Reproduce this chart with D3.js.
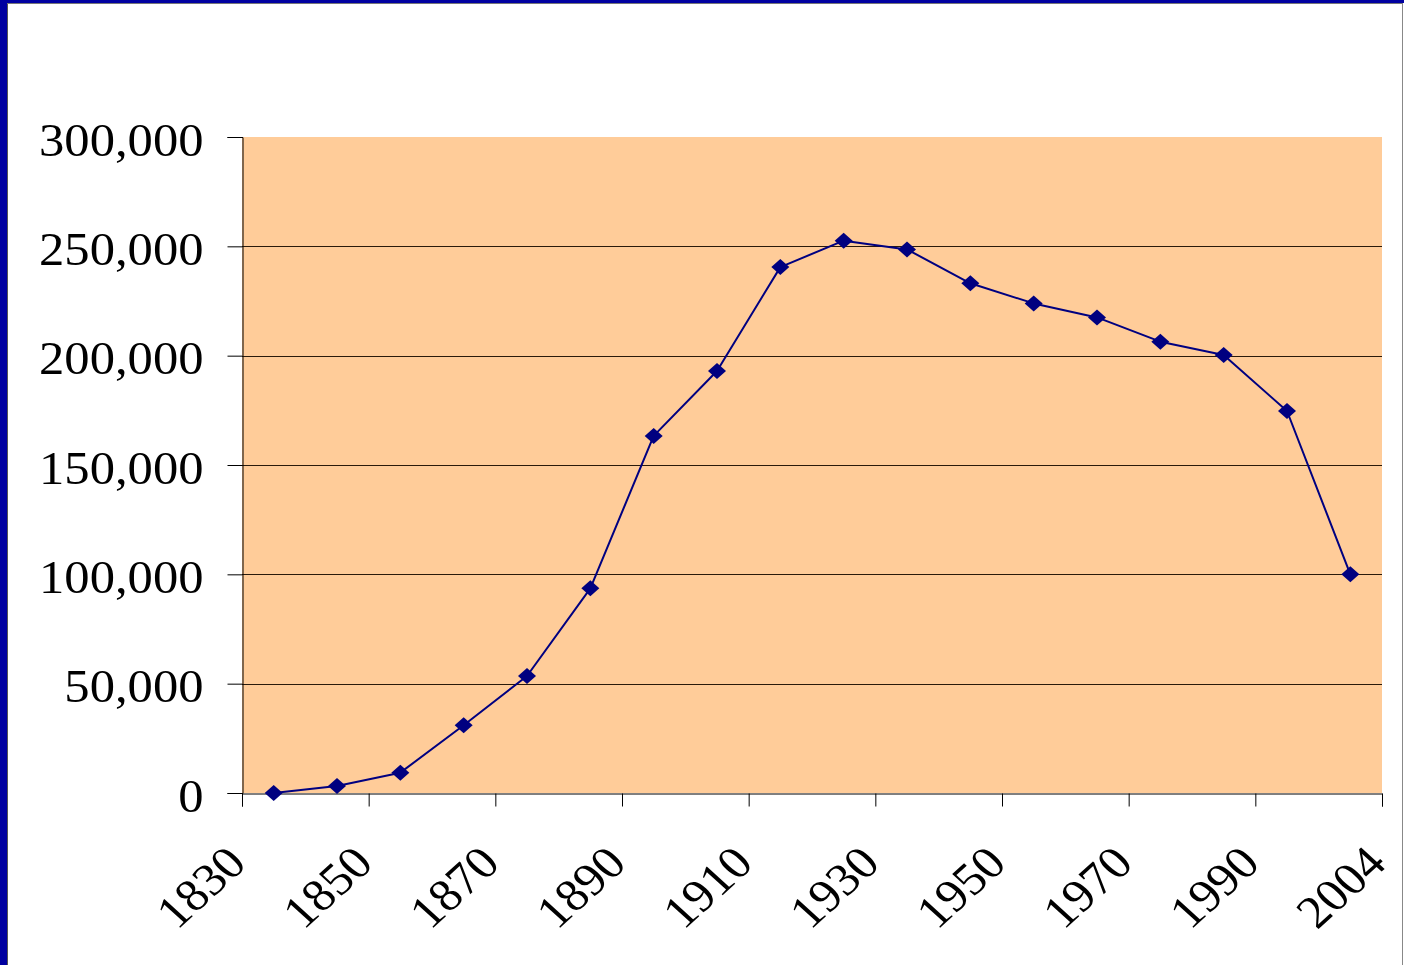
<!DOCTYPE html>
<html>
<head>
<meta charset="utf-8">
<script src="https://cdn.jsdelivr.net/npm/d3@7/dist/d3.min.js"></script>
<style>
  html, body { margin: 0; padding: 0; background: #fff; }
  svg { display: block; }
</style>
</head>
<body>
<svg id="chart" width="1404" height="965"></svg>
<script>
// Decade categories (one point each) and their values
const categories = ["1830s","1840s","1850s","1860s","1870s","1880s","1890s","1900s","1910s",
                    "1920s","1930s","1940s","1950s","1960s","1970s","1980s","1990s","2004"];
const values = [0, 3200, 9300, 31000, 53500, 93600, 163300, 193000, 240500,
                 252600, 248600, 233100, 223900, 217500, 206400, 200300, 174700, 100000];

// Labels placed on every second category boundary
const xTickLabels = ["1830","1850","1870","1890","1910","1930","1950","1970","1990","2004"];
const yTicks = [0, 50000, 100000, 150000, 200000, 250000, 300000];

const svg = d3.select("#chart");
const W = 1404, H = 965;

// Slide frame: blue band on the left and top, thin grey inner edge
svg.append("rect").attr("x", 0).attr("y", 0).attr("width", W).attr("height", H).attr("fill", "#fff");
svg.append("rect").attr("x", 0).attr("y", 0).attr("width", 7).attr("height", H).attr("fill", "#0000A0");
svg.append("rect").attr("x", 0).attr("y", 0).attr("width", W).attr("height", 3).attr("fill", "#0000A0");
svg.append("line").attr("x1", 7.5).attr("x2", 7.5).attr("y1", 3).attr("y2", H)
  .attr("stroke", "#555").attr("stroke-width", 1);
svg.append("line").attr("x1", 7).attr("x2", 1402).attr("y1", 3.5).attr("y2", 3.5)
  .attr("stroke", "#777").attr("stroke-width", 1);
svg.append("line").attr("x1", 1402.5).attr("x2", 1402.5).attr("y1", 3).attr("y2", H)
  .attr("stroke", "#888").attr("stroke-width", 1);

const plot = { left: 242, right: 1382, top: 137, bottom: 793 };

const x = d3.scaleBand().domain(categories).range([plot.left, plot.right]).padding(0);
const xEdge = d3.scaleLinear().domain([0, categories.length]).range([plot.left, plot.right]);
const y = d3.scaleLinear().domain([0, 300000]).range([plot.bottom, plot.top]);

// Plot area
svg.append("rect")
  .attr("x", plot.left).attr("y", plot.top)
  .attr("width", plot.right - plot.left).attr("height", plot.bottom - plot.top)
  .attr("fill", "#FFCC99");

// Horizontal gridlines
svg.append("g")
  .selectAll("line")
  .data(yTicks.filter(d => d > 0 && d < 300000))
  .join("line")
  .attr("x1", plot.left).attr("x2", plot.right)
  .attr("y1", d => Math.round(y(d)) + 0.5).attr("y2", d => Math.round(y(d)) + 0.5)
  .attr("stroke", "#2a1a0a").attr("stroke-width", 1);

const fmt = d3.format(",");
const labelFont = "'Liberation Serif', 'Times New Roman', serif";

// Y axis
const yAxis = svg.append("g")
  .attr("transform", `translate(${plot.left + 0.5},0)`)
  .call(d3.axisLeft(y).tickValues(yTicks).tickSize(15).tickPadding(0).tickFormat(fmt));
yAxis.select(".domain").attr("stroke", "#000").attr("stroke-width", 1);
yAxis.selectAll(".tick line").attr("stroke", "#000");
yAxis.selectAll(".tick text")
  .attr("x", 0)
  .attr("dy", null)
  .attr("y", 0)
  .attr("transform", "translate(-39,18) scale(1.1,1)")
  .attr("fill", "#000")
  .style("font-family", labelFont)
  .style("font-size", "46px");

// X axis: ticks at every second category boundary
const edgeIdx = d3.range(0, categories.length + 1, 2);
const xAxis = svg.append("g")
  .attr("transform", `translate(0,${plot.bottom + 0.5})`)
  .call(d3.axisBottom(xEdge).tickValues(edgeIdx).tickSize(13).tickPadding(0)
    .tickFormat((d, i) => xTickLabels[i]));
xAxis.select(".domain").attr("stroke", "#000").attr("stroke-width", 1);
xAxis.selectAll(".tick line").attr("stroke", "#000");
xAxis.selectAll(".tick text")
  .attr("dy", null)
  .attr("y", 0)
  .attr("text-anchor", "end")
  .attr("transform", "translate(6,72) scale(1.1,1) rotate(-45)")
  .attr("fill", "#000")
  .style("font-family", labelFont)
  .style("font-size", "46px");

// Series line
const cx = c => x(c) + x.bandwidth() / 2;
const line = d3.line().x((d, i) => cx(categories[i])).y(d => y(d));
svg.append("path")
  .datum(values)
  .attr("d", line)
  .attr("fill", "none")
  .attr("stroke", "#000080")
  .attr("stroke-width", 2)
  .attr("stroke-linejoin", "round");

// Diamond markers
const hw = 9, hh = 8;
svg.append("g")
  .selectAll("path")
  .data(values)
  .join("path")
  .attr("transform", (d, i) => `translate(${cx(categories[i])},${y(d)})`)
  .attr("d", `M0,${-hh}L${hw},0L0,${hh}L${-hw},0Z`)
  .attr("fill", "#000080");
</script>
</body>
</html>
